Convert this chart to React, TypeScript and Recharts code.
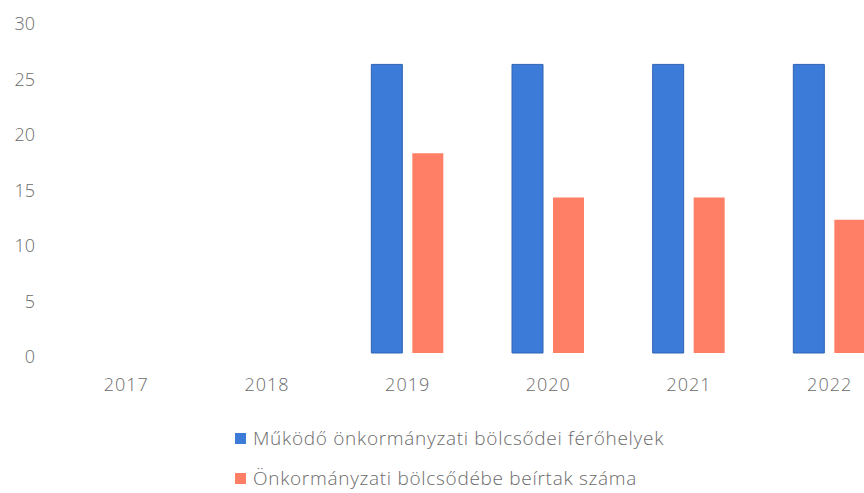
import React from "react";
import { BarChart, Bar, XAxis, YAxis, Legend } from "recharts";

// years on the category axis
const years = ["2017", "2018", "2019", "2020", "2021", "2022"];
// Működő önkormányzati bölcsődei férőhelyek
const ferohelyek = [null, null, 26, 26, 26, 26];
// Önkormányzati bölcsődébe beírtak száma
const beirtak = [null, null, 18, 14, 14, 12];
const yTicks = [0, 5, 10, 15, 20, 25, 30];

const seriesNames = [
  "Működő önkormányzati bölcsődei férőhelyek",
  "Önkormányzati bölcsődébe beírtak száma",
];

const data = years.map((y, i) => ({
  year: y,
  ferohelyek: ferohelyek[i],
  beirtak: beirtak[i],
}));

const BLUE = "#3d7bd8";
const ORANGE = "#ff7f66";
const TEXT = "#6b6b6b";
const FONT = "'Open Sans', sans-serif";

const YTick = (props: any) => {
  const { x, y, payload } = props;
  return (
    <text x={x} y={y + 4} dy="0.35em" textAnchor="end" fill={TEXT} fontSize={18} fontFamily={FONT} fontWeight={300}>
      {payload.value}
    </text>
  );
};

const XTick = (props: any) => {
  const { x, y, payload } = props;
  return (
    <text x={x} y={y} dy="0.75em" textAnchor="middle" fill={TEXT} fontSize={18} fontFamily={FONT} fontWeight={300} letterSpacing={1}>
      {payload.value}
    </text>
  );
};

const renderLegend = () => {
  const colors = [BLUE, ORANGE];
  return (
    <div style={{ fontFamily: FONT, fontSize: 19, color: TEXT, fontWeight: 300, letterSpacing: 0.7 }}>
      {seriesNames.map((n, i) => (
        <div key={n} style={{ display: "flex", alignItems: "center", height: 40 }}>
          <span style={{ width: 11, height: 11, background: colors[i], marginRight: 7, display: "inline-block" }} />
          <span>{n}</span>
        </div>
      ))}
    </div>
  );
};

const App = () => {
  return (
    <div style={{ position: "fixed", left: 0, top: 0, width: 864, height: 493, overflow: "hidden", background: "#fff" }}>
      <BarChart
        width={920}
        height={493}
        data={data}
        margin={{ top: 20, right: 20, bottom: 30, left: 0 }}
        barSize={31}
        barGap={10}
      >
        <XAxis dataKey="year" axisLine={false} tickLine={false} tick={<XTick />} tickMargin={18} />
        <YAxis
          width={56}
          domain={[0, 30]}
          ticks={yTicks}
          axisLine={false}
          tickLine={false}
          tickSize={0}
          tickMargin={21}
          tick={<YTick />}
        />
        <Legend
          content={renderLegend}
          layout="vertical"
          verticalAlign="bottom"
          wrapperStyle={{ position: "absolute", left: 235, top: 418, width: 620 }}
        />
        <Bar dataKey="ferohelyek" name={seriesNames[0]} fill={BLUE} stroke="#2f62b3" strokeWidth={1} isAnimationActive={false} />
        <Bar dataKey="beirtak" name={seriesNames[1]} fill={ORANGE} isAnimationActive={false} />
      </BarChart>
    </div>
  );
};

export default App;
